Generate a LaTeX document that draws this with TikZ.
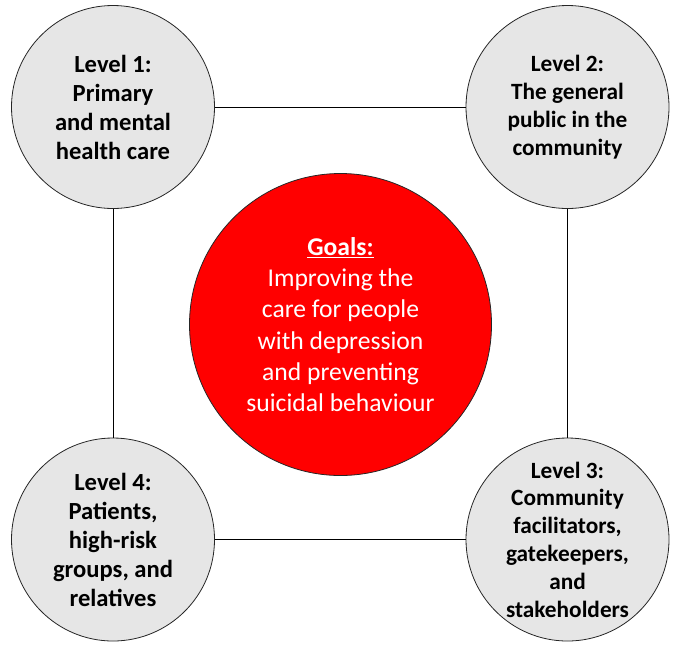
\documentclass[tikz,border=0pt]{standalone}
\usepackage{fontspec}
\setmainfont{Carlito}
\usepackage{tikz}
\definecolor{lvlgray}{RGB}{230,230,230}
\definecolor{goalred}{RGB}{255,0,0}
\begin{document}
\begin{tikzpicture}[x=1pt,y=-1pt,
  level/.style={circle,draw=black!85,line width=0.8pt,fill=lvlgray,minimum size=203pt,inner sep=0pt,align=center,font=\bfseries\fontsize{24.6}{29}\selectfont},
  levelsm/.style={level,font=\bfseries\fontsize{23.3}{27.8}\selectfont},
  goal/.style={circle,draw=black!85,line width=0.8pt,fill=goalred,text=white,minimum size=302pt,inner sep=0pt,align=center,font=\fontsize{25.6}{31.3}\selectfont},
  link/.style={line width=0.8pt}]
\useasboundingbox (0,0) rectangle (679,649);
\node [level] (lv1) at (113,107) {Level 1:\\Primary\\and mental\\health care};
\node [levelsm] (lv2) at (567.5,107) {Level 2:\\The general\\public in the\\community};
\node [levelsm] (lv3) at (567.5,539.5) {Level 3:\\Community\\facilitators,\\gatekeepers,\\and\\stakeholders};
\node [level] (lv4) at (113,539.5) {Level 4:\\Patients,\\high-risk\\groups, and\\relatives};
\node [goal] (goal) at (340.5,324.5) {\underline{\textbf{Goals:}}\\Improving the\\care for people\\with depression\\and preventing\\suicidal behaviour};
\draw [link] (lv1) -- (lv2);
\draw [link] (lv2) -- (lv3);
\draw [link] (lv3) -- (lv4);
\draw [link] (lv4) -- (lv1);
\end{tikzpicture}
\end{document}
